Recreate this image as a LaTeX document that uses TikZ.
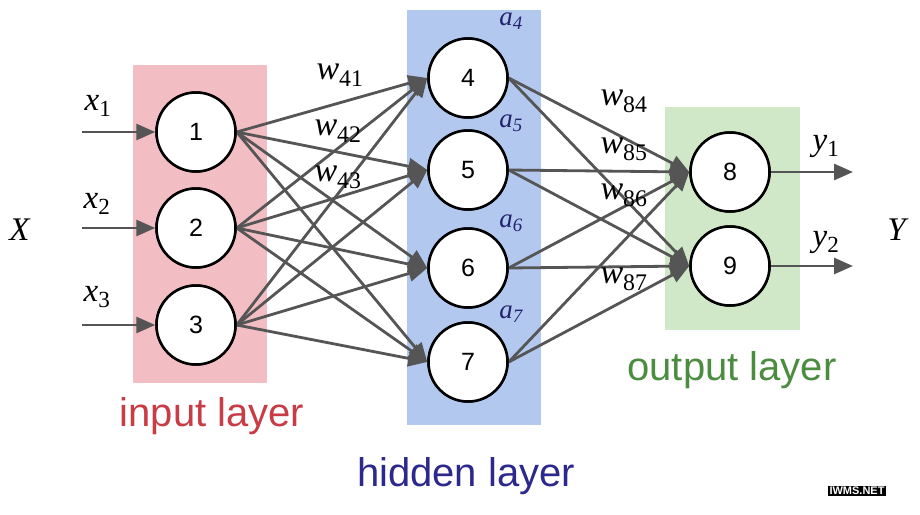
\documentclass[tikz,border=0pt]{standalone}
\usepackage{fontspec}
\setmainfont{Liberation Serif}
\newfontfamily\sansf{Liberation Sans}
\usetikzlibrary{arrows.meta}
\definecolor{pinkbg}{RGB}{242,190,196}
\definecolor{bluebg}{RGB}{178,200,238}
\definecolor{greenbg}{RGB}{208,232,200}
\definecolor{linegray}{RGB}{85,85,85}
\definecolor{inred}{RGB}{200,60,70}
\definecolor{hidnavy}{RGB}{45,40,140}
\definecolor{outgreen}{RGB}{75,140,65}
\definecolor{anavy}{RGB}{35,35,110}
\begin{document}
\begin{tikzpicture}[x=1pt,y=-1pt,
  neuron/.style={circle,draw=black,line width=2.5pt,fill=white,minimum size=79pt,inner sep=0pt,font=\sansf\fontsize{25}{27}\selectfont},
  conn/.style={draw=linegray,line width=2.8pt,-{Triangle[length=19pt,width=16pt]}},
  wlab/.style={font=\fontsize{34}{36}\selectfont},
  alab/.style={font=\fontsize{27}{29}\selectfont\itshape,text=anavy},
  xlab/.style={font=\fontsize{33}{35}\selectfont},
  layertxt/.style={font=\sansf\fontsize{40}{42}\selectfont}]
\path[use as bounding box] (0,0) rectangle (920,514);
% layer backgrounds
\fill[pinkbg] (133,65) rectangle (267,383);
\fill[bluebg] (407,10) rectangle (541,425);
\fill[greenbg] (665,107) rectangle (800,330);
% nodes
\node[neuron] (n1) at (196,132) {1};
\node[neuron] (n2) at (196,228) {2};
\node[neuron] (n3) at (196,325) {3};
\node[neuron] (n4) at (468,78) {4};
\node[neuron] (n5) at (468,170) {5};
\node[neuron] (n6) at (468,268) {6};
\node[neuron] (n7) at (468,362) {7};
\node[neuron] (n8) at (730,172) {8};
\node[neuron] (n9) at (730,266) {9};
% connectors
\foreach \s in {1,2,3}{\foreach \t in {4,5,6,7}{\draw[conn] (n\s.east) -- (n\t.west);}}
\foreach \s in {4,5,6,7}{\foreach \t in {8,9}{\draw[conn] (n\s.east) -- (n\t.west);}}
% redraw nodes on top
\foreach \n/\x/\y in {1/196/132,2/196/228,3/196/325,4/468/78,5/468/170,6/468/268,7/468/362,8/730/172,9/730/266}{
  \node[neuron] at (\x,\y) {\n};}
% inputs and outputs
\coordinate (i1) at (82,132);
\coordinate (i2) at (82,228);
\coordinate (i3) at (82,325);
\coordinate (o1) at (853,172);
\coordinate (o2) at (853,266);
\draw[conn] (i1) -- (n1.west);
\draw[conn] (i2) -- (n2.west);
\draw[conn] (i3) -- (n3.west);
\draw[conn] (n8.east) -- (o1);
\draw[conn] (n9.east) -- (o2);
% labels
\node[xlab] (lx1) at (98,106) {\textit{x}\textsubscript{1}};
\node[xlab] (lx2) at (97,204) {\textit{x}\textsubscript{2}};
\node[xlab] (lx3) at (97,297) {\textit{x}\textsubscript{3}};
\node[xlab] (lX) at (20,230) {\textit{X}};
\node[xlab] (lY) at (898,230) {\textit{Y}};
\node[xlab] (ly1) at (826,146) {\textit{y}\textsubscript{1}};
\node[xlab] (ly2) at (826,242) {\textit{y}\textsubscript{2}};
\node[wlab] (w41) at (340,75) {\textit{w}\textsubscript{41}};
\node[wlab] (w42) at (338,131) {\textit{w}\textsubscript{42}};
\node[wlab] (w43) at (338,177) {\textit{w}\textsubscript{43}};
\node[wlab] (w84) at (624,101) {\textit{w}\textsubscript{84}};
\node[wlab] (w85) at (624,149) {\textit{w}\textsubscript{85}};
\node[wlab] (w86) at (624,195) {\textit{w}\textsubscript{86}};
\node[wlab] (w87) at (624,279) {\textit{w}\textsubscript{87}};
\node[alab] (a4) at (511,21) {a\textsubscript{4}};
\node[alab] (a5) at (511,123) {a\textsubscript{5}};
\node[alab] (a6) at (511,223) {a\textsubscript{6}};
\node[alab] (a7) at (511,314) {a\textsubscript{7}};
\node[layertxt,text=inred] (tin) at (212,416) {input layer};
\node[layertxt,text=hidnavy] (thid) at (466,476) {hidden layer};
\node[layertxt,text=outgreen] (tout) at (732,370) {output layer};
\node[fill=black,text=white,font=\sansf\bfseries\fontsize{11}{12}\selectfont,inner sep=1.5pt] (wm) at (857,491) {IWMS.NET};
\end{tikzpicture}
\end{document}
